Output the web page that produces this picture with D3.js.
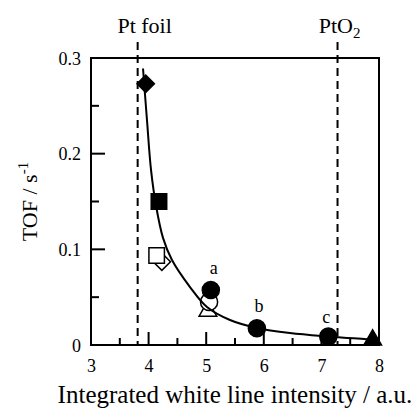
<!DOCTYPE html>
<html><head><meta charset="utf-8">
<script src="https://cdn.jsdelivr.net/npm/d3@7"></script>
<style>body{margin:0;background:#fff}svg{display:block}</style>
</head><body>
<script>
// ---- data ----
const xTickValues = [3, 4, 5, 6, 7, 8];
const yTickValues = [0, 0.1, 0.2, 0.3];
const xMinorTicks = [3.5, 4.5, 5.5, 6.5, 7.5];
const yMinorTicks = [0.05, 0.15, 0.25];

// markers (series kind, filled?)
const pointSeries = ["diamond", "square", "diamond", "square", "triangle", "circle", "circle", "circle", "circle", "triangle"];
const pointFilled = [true, true, false, false, false, false, true, true, true, true];
const pointX = [3.95, 4.18, 4.23, 4.14, 5.03, 5.05, 5.08, 5.88, 7.12, 7.89];
const pointY = [0.273, 0.150, 0.087, 0.0935, 0.0355, 0.045, 0.0575, 0.0175, 0.0087, 0.0052];

const letterLabels = ["a", "b", "c"];
const letterX = [5.08, 5.88, 7.12];
const letterY = [0.0575, 0.0175, 0.0087];

// fitted curve
const curveX = [3.903, 3.972, 4.042, 4.128, 4.25, 4.406, 4.719, 5.014, 5.413, 5.882, 6.455, 7.115, 8.0];
const curveY = [0.289, 0.235, 0.183, 0.146, 0.112, 0.0888, 0.0606, 0.0397, 0.0261, 0.0178, 0.0125, 0.0089, 0.0052];

const refX = [3.81, 7.28];
const refNames = ["Pt foil", "PtO2"];

// ---- layout ----
const W = 416, H = 408;
const L = 91, R = 379, T = 58, B = 345;
const FONT = "Liberation Serif";

const svg = d3.select("body").append("svg").attr("width", W).attr("height", H);
const x = d3.scaleLinear().domain([3, 8]).range([L, R]);
const y = d3.scaleLinear().domain([0, 0.3]).range([B, T]);

// reference dashed lines
svg.selectAll("line.ref").data(refX).join("line")
  .attr("class", "ref")
  .attr("x1", d => x(d)).attr("x2", d => x(d))
  .attr("y1", 42).attr("y2", B)
  .attr("stroke", "#000").attr("stroke-width", 2).attr("stroke-dasharray", "8,5");

// ref labels
const refOff = [7, 2];
refNames.forEach((n, i) => {
  const t = svg.append("text").attr("x", x(refX[i]) + refOff[i]).attr("y", 33)
    .attr("text-anchor", "middle").attr("font-family", FONT).attr("font-size", 22);
  if (n === "PtO2") {
    t.append("tspan").text("PtO");
    t.append("tspan").attr("font-size", 15).attr("dy", 5).text("2");
  } else t.text(n);
});

// axes (labels)
const ax = svg.append("g").attr("transform", `translate(0,${B})`)
  .call(d3.axisBottom(x).tickValues(xTickValues).tickFormat(d3.format("d")).tickSize(0).tickPadding(14));
const ay = svg.append("g").attr("transform", `translate(${L},0)`)
  .call(d3.axisLeft(y).tickValues(yTickValues).tickFormat(d => d === 0 ? "0" : d3.format(".1f")(d)).tickSize(0).tickPadding(10));
[ax, ay].forEach(g => {
  g.attr("font-family", FONT).attr("font-size", 18);
  g.select(".domain").remove();
  g.selectAll("line").remove();
  g.selectAll("text").attr("font-family", FONT).attr("font-size", 18).attr("fill", "#000");
});
ay.selectAll("text").attr("dy", "0.34em");

// inward ticks
const tickG = svg.append("g").attr("stroke", "#000").attr("stroke-width", 2);
const xt = xTickValues.map(v => [v, 13]).concat(xMinorTicks.map(v => [v, 7]));
tickG.selectAll("line.xt").data(xt).join("line").attr("class", "xt")
  .attr("x1", d => x(d[0])).attr("x2", d => x(d[0])).attr("y1", B).attr("y2", d => B - d[1]);
const yt0 = yTickValues.map(v => [v, 14]).concat(yMinorTicks.map(v => [v, 8]));
tickG.selectAll("line.yt").data(yt0).join("line").attr("class", "yt")
  .attr("y1", d => y(d[0])).attr("y2", d => y(d[0])).attr("x1", L).attr("x2", d => L + d[1]);

// frame
svg.append("rect").attr("x", L).attr("y", T).attr("width", R - L).attr("height", B - T)
  .attr("fill", "none").attr("stroke", "#000").attr("stroke-width", 2);

// markers
const symType = { diamond: d3.symbolSquare, square: d3.symbolSquare, triangle: d3.symbolTriangle, circle: d3.symbolCircle };
const symSize = { diamond: 150, square: 240, triangle: 135, circle: 230 };
const drawOrder = [0, 1, 2, 3, 4, 5, 6, 7, 8, 9];
svg.selectAll("path.pt").data(drawOrder).join("path")
  .attr("class", "pt")
  .attr("d", i => d3.symbol(symType[pointSeries[i]], symSize[pointSeries[i]])())
  .attr("transform", i => `translate(${x(pointX[i])},${y(pointY[i])})` + (pointSeries[i] === "diamond" ? " rotate(45)" : ""))
  .attr("fill", i => pointFilled[i] ? "#000" : "#fff")
  .attr("stroke", "#000").attr("stroke-width", 1.5);

// fit curve
const line = d3.line().x(d => x(d[0])).y(d => y(d[1])).curve(d3.curveCatmullRom.alpha(0.5));
svg.append("path").datum(d3.zip(curveX, curveY))
  .attr("d", line).attr("fill", "none").attr("stroke", "#000").attr("stroke-width", 2);

// letter labels
const letOff = [[3, -16], [2, -16], [-2, -14]];
svg.selectAll("text.let").data(letterLabels).join("text")
  .attr("class", "let")
  .attr("x", (d, i) => x(letterX[i]) + letOff[i][0])
  .attr("y", (d, i) => y(letterY[i]) + letOff[i][1])
  .attr("text-anchor", "middle").attr("font-family", FONT).attr("font-size", 18)
  .text(d => d);

// axis titles
svg.append("text").attr("x", (L + R) / 2).attr("y", 403).attr("text-anchor", "middle")
  .attr("font-family", FONT).attr("font-size", 25).text("Integrated white line intensity / a.u.");
const ytl = svg.append("text").attr("transform", `translate(37,${(T + B) / 2}) rotate(-90)`)
  .attr("text-anchor", "middle").attr("font-family", FONT).attr("font-size", 22);
ytl.append("tspan").text("TOF / s");
ytl.append("tspan").attr("font-size", 15).attr("dy", -9).text("-1");
</script>
</body></html>
